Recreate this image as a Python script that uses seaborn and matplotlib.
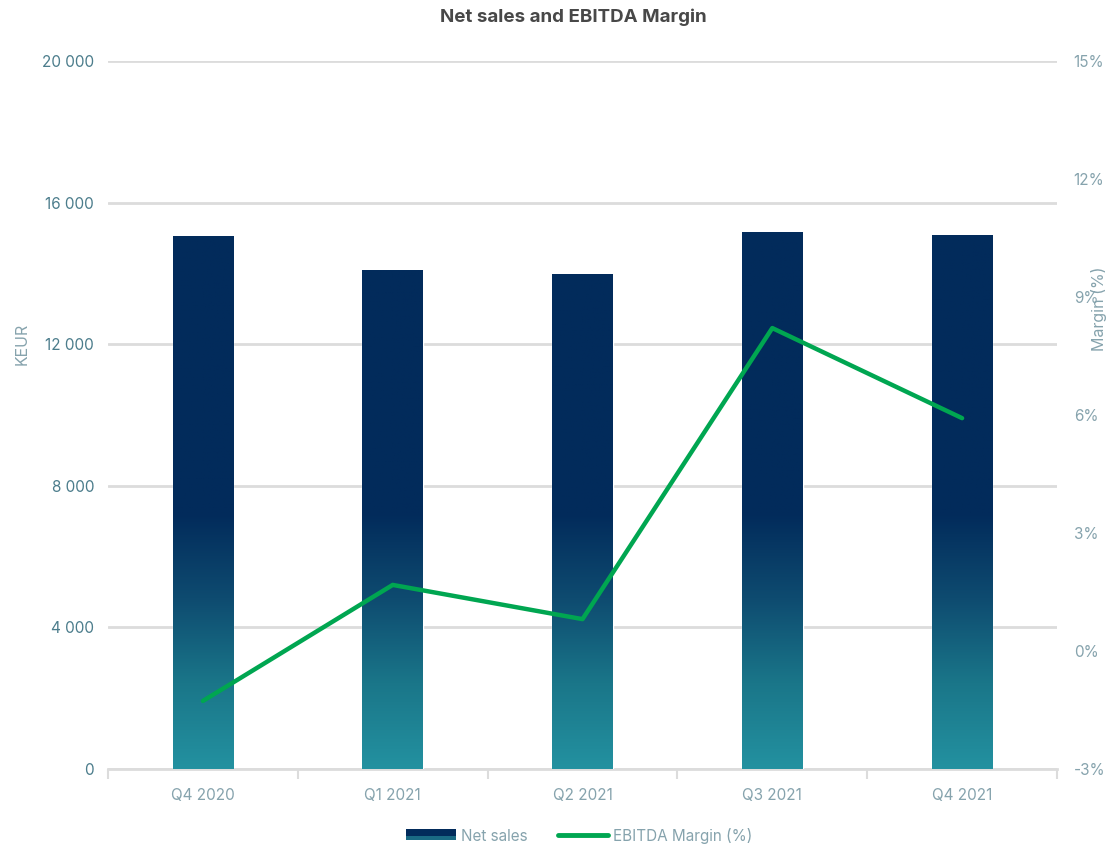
import numpy as np
import pandas as pd
import matplotlib
matplotlib.use("Agg")
import matplotlib.pyplot as plt
import seaborn as sns
from matplotlib.colors import LinearSegmentedColormap
from matplotlib.lines import Line2D
from matplotlib.patches import Rectangle
from matplotlib.legend_handler import HandlerBase

quarters = ["Q4 2020", "Q1 2021", "Q2 2021", "Q3 2021", "Q4 2021"]
net_sales = [15050, 14100, 13980, 15170, 15090]
ebitda_margin = [-1.27, 1.68, 0.81, 8.21, 5.92]
left_ticks = [0, 4000, 8000, 12000, 16000, 20000]
left_labels = ["0", "4 000", "8 000", "12 000", "16 000", "20 000"]
right_ticks = [-3, 0, 3, 6, 9, 12, 15]
right_labels = ["-3%", "0%", "3%", "6%", "9%", "12%", "15%"]

sns.set_theme(style="white")
plt.rcParams["font.family"] = ["Inter", "DejaVu Sans"]

NAVY = "#022B5B"
TEAL = "#2391A0"
GREEN = "#00A651"
LEFT_TXT = "#4C7D8C"
RIGHT_TXT = "#86A3AD"
GRID = "#DCDCDC"

cmap = LinearSegmentedColormap.from_list(
    "bar", [(0.0, TEAL), (0.12, "#1A7689"), (0.24, "#0E4B70"), (0.36, NAVY), (1.0, NAVY)])

fig = plt.figure(figsize=(11.09, 8.46), dpi=100)
ax = fig.add_axes([108 / 1109, 1 - 769 / 846, (1057 - 108) / 1109, (769 - 61) / 846])

df = pd.DataFrame({"quarter": quarters, "sales": net_sales})
sns.barplot(data=df, x="quarter", y="sales", ax=ax, width=0.32, color=NAVY,
            saturation=1, zorder=3)

ax.set_ylim(0, 20000)
ax.set_xlim(-0.5, len(quarters) - 0.5)

# gradient fill clipped to bars
grad = np.linspace(0, 1, 256).reshape(-1, 1)
for p in ax.patches:
    x0, w = p.get_x(), p.get_width()
    im = ax.imshow(grad, cmap=cmap, origin="lower", aspect="auto",
                   extent=[x0, x0 + w, 0, 20000], zorder=4, vmin=0, vmax=1)
    im.set_clip_path(p)
ax.set_xlim(-0.5, len(quarters) - 0.5)
ax.set_ylim(0, 20000)

ax.set_yticks(left_ticks)
ax.set_yticklabels(left_labels, color=LEFT_TXT, fontsize=11)
ax.yaxis.grid(True, color=GRID, linewidth=2, zorder=0)
ax.set_axisbelow(True)
ax.tick_params(axis="y", length=0, pad=10)
ax.set_xticks(range(len(quarters)))
ax.set_xticklabels(quarters, color=RIGHT_TXT, fontsize=11)
ax.tick_params(axis="x", which="major", length=0, pad=14)
# minor ticks at category boundaries
ax.set_xticks(np.arange(-0.5, len(quarters), 1.0), minor=True)
ax.tick_params(axis="x", which="minor", bottom=True, length=7, width=1.5,
               color=GRID, direction="out")
for s in ["top", "right", "left"]:
    ax.spines[s].set_visible(False)
ax.spines["bottom"].set_color(GRID)
ax.spines["bottom"].set_linewidth(2)
ax.set_xlabel("")
ax.set_ylabel("KEUR", color=RIGHT_TXT, fontsize=11.5)
ax.yaxis.set_label_coords(-0.083, 0.6)

ax2 = ax.twinx()
sns.lineplot(x=np.arange(len(quarters)), y=ebitda_margin, ax=ax2, color=GREEN,
             linewidth=3.2, zorder=5)
ax2.set_ylim(-3, 15)
ax2.set_yticks(right_ticks)
ax2.set_yticklabels(right_labels, color=RIGHT_TXT, fontsize=11)
ax2.tick_params(axis="y", length=0, pad=12)
for s in ["top", "right", "left", "bottom"]:
    ax2.spines[s].set_visible(False)
ax2.set_ylabel("Margin (%)", color=RIGHT_TXT, fontsize=11.5)
ax2.yaxis.set_label_coords(1.036, 0.65)
ax2.grid(False)

fig.suptitle("Net sales and EBITDA Margin", x=573 / 1109, y=1 - 17 / 846,
             va="center", fontsize=13.5, fontweight="bold", color="#484848")


class GradHandler(HandlerBase):
    def create_artists(self, legend, orig, xd, yd, w, h, fs, trans):
        r1 = Rectangle((xd, yd), w, h * 0.6, facecolor="#1A6A84", edgecolor="none",
                       transform=trans)
        r2 = Rectangle((xd, yd + h * 0.35), w, h * 0.65, facecolor=NAVY, edgecolor="none",
                       transform=trans)
        return [r1, r2]


bar_handle = Rectangle((0, 0), 1, 1, facecolor=NAVY)
line_handle = Line2D([0], [0], color=GREEN, linewidth=3.5, solid_capstyle="round")
leg = fig.legend([bar_handle, line_handle], ["Net sales", "EBITDA Margin (%)"],
                 handler_map={Rectangle: GradHandler()},
                 loc="center", bbox_to_anchor=(579 / 1109, 1 - 836 / 846), ncol=2,
                 frameon=False, fontsize=11, handlelength=3.3, handleheight=0.8,
                 columnspacing=2.0, handletextpad=0.3)
for t in leg.get_texts():
    t.set_color(RIGHT_TXT)

fig.savefig("out.png", dpi=100)
